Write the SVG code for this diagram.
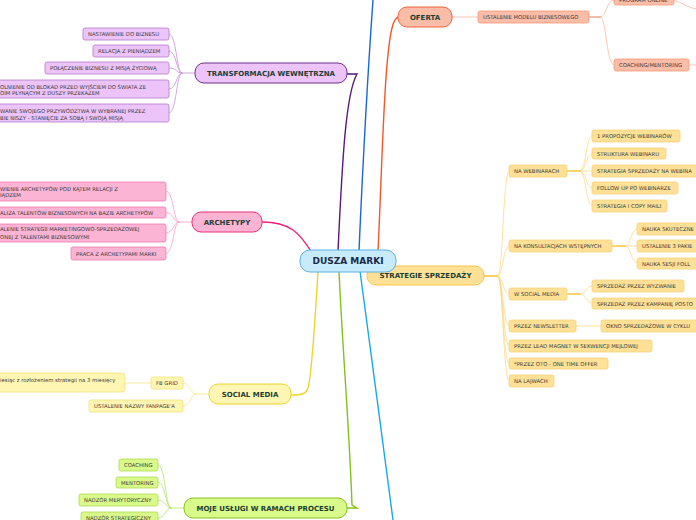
<svg xmlns="http://www.w3.org/2000/svg" width="696" height="520" viewBox="0 0 696 520">
<style>
text{font-family:"DejaVu Sans","Verdana","Liberation Sans",sans-serif}
.c{font-size:5.3px;fill:#3a3a3a}
.m{font-size:7px;font-weight:bold;fill:#1d3f33;text-anchor:middle}
.cn{fill:none;stroke-linecap:round}
.pu{fill:#ecc4fa;stroke:#b57cc8;stroke-width:0.8}
.pk{fill:#fbb4d4;stroke:#f07ab0;stroke-width:0.8}
.ye{fill:#fff6b4;stroke:#f3e27a;stroke-width:0.8}
.gr{fill:#d9f98a;stroke:#aedc50;stroke-width:0.8}
.sa{fill:#f9bda8;stroke:#f59a7a;stroke-width:0.8}
.or{fill:#fee196;stroke:#f8d27a;stroke-width:0.8}
</style>
<rect width="696" height="520" fill="#ffffff"/>
<g id="connectors" class="cn">
<!-- main branches -->
<path d="M338,251 C342,170 345,95 357,74 L347,74" stroke="#5a1a78" stroke-width="1.4"/>
<path d="M359,251 C363,160 368,70 373,0" stroke="#1a68d8" stroke-width="1.4"/>
<path d="M378,251 C382,170 384,60 392,28 C394,20 396,17 399,17" stroke="#f0582a" stroke-width="1.4"/>
<path d="M312,253 C300,233 290,222 262,222" stroke="#f0207a" stroke-width="1.4"/>
<path d="M318,271 C315,320 312,375 308,388 C306,394 302,395 291,395" stroke="#ecd42c" stroke-width="1.4"/>
<path d="M339,271 C342,340 350,440 352,505 L357,508 L347,508" stroke="#86c01e" stroke-width="1.4"/>
<path d="M360,271 C370,350 383,440 393,520" stroke="#18a8ec" stroke-width="1.4"/>
<!-- transformacja -->
<g stroke="#c890d8" stroke-width="0.8">
<path d="M195,73 L182,73"/>
<path d="M182,73 C176,73 177,34 169,34"/>
<path d="M182,73 C176,73 177,51 169,51"/>
<path d="M182,73 C176,73 177,68 169,68"/>
<path d="M182,73 C176,73 177,89 169,89"/>
<path d="M182,73 C176,73 177,113 169,113"/>
</g>
<!-- archetypy -->
<g stroke="#f8a0c8" stroke-width="0.8">
<path d="M192,222 L179,222"/>
<path d="M179,222 C173,222 174,191 166,191"/>
<path d="M179,222 C173,222 174,212.5 166,212.5"/>
<path d="M179,222 C173,222 174,233 166,233"/>
<path d="M179,222 C173,222 174,253.5 166,253.5"/>
</g>
<!-- social media -->
<g stroke="#f5e68a" stroke-width="0.8">
<path d="M209,394 L196,394"/>
<path d="M196,394 C190,394 191,383 183,383"/>
<path d="M196,394 C190,394 191,406 183,406"/>
<path d="M151,383 L125,383"/>
</g>
<!-- moje uslugi -->
<g stroke="#b8e070" stroke-width="0.8">
<path d="M184,508 L171,508"/>
<path d="M171,508 C165,508 166,465 158,465"/>
<path d="M171,508 C165,508 166,482.5 158,482.5"/>
<path d="M171,508 C165,508 166,500 158,500"/>
<path d="M171,508 C165,508 166,518 158,518"/>
</g>
<!-- oferta -->
<g stroke="#f8b8a0" stroke-width="0.8">
<path d="M452,17 L478,17"/>
<path d="M600,17 C607,17 606,0 614,0"/>
<path d="M600,17 C607,17 606,65 614,65"/>
<path d="M689,65 L696,65"/>
<path d="M673,0 C682,2 688,8 696,9"/>
</g>
<path d="M589,17 L600,17" stroke="#f07a50" stroke-width="1.2"/>
<!-- strategie -->
<path d="M484,276 L498,276" stroke="#f8c030" stroke-width="1.6"/>
<g stroke="#fdd98a" stroke-width="0.8">
<path d="M498,276 C503,276 503,171 509,171"/>
<path d="M498,276 C503,276 503,246 509,246"/>
<path d="M498,276 C503,276 503,294 509,294"/>
<path d="M498,276 C503,276 503,326 509,326"/>
<path d="M498,276 C503,276 503,346 509,346"/>
<path d="M498,276 C503,276 503,364 509,364"/>
<path d="M498,276 C503,276 503,381 509,381"/>
<path d="M580,171 C586,171 586,136 592,136"/>
<path d="M580,171 C586,171 586,154 592,154"/>
<path d="M580,171 L592,171"/>
<path d="M580,171 C586,171 586,188 592,188"/>
<path d="M580,171 C586,171 586,206 592,206"/>
<path d="M625,246 C631,246 631,229 637,229"/>
<path d="M625,246 L637,246"/>
<path d="M625,246 C631,246 631,263 637,263"/>
<path d="M580,294 C586,294 586,286 592,286"/>
<path d="M580,294 C586,294 586,303 592,303"/>
<path d="M576,326 L601,326"/>
</g>
<g stroke="#f8c840" stroke-width="1.3">
<path d="M567,171 L580,171"/>
<path d="M612,246 L625,246"/>
<path d="M567,294 L580,294"/>
</g>
</g>

<g id="oferta">
<rect x="398" y="7" width="54" height="20" rx="9" fill="#f9bda8" stroke="#f0643a" stroke-width="1"/>
<text class="m" x="425" y="19.8">OFERTA</text>
</g>
<g id="ustalenie-modelu">
<rect class="sa" x="478" y="11" width="111" height="12" rx="2"/>
<text class="c" x="483" y="19">USTALENIE MODELU BIZNESOWEGO</text>
</g>
<g id="program-online">
<rect class="sa" x="614" y="-6" width="60" height="11" rx="2"/>
<text class="c" x="619" y="2">PROGRAM ONLINE</text>
</g>
<g id="coaching-mentoring">
<rect class="sa" x="614" y="59" width="75" height="12" rx="2"/>
<text class="c" x="619" y="67">COACHING/MENTORING</text>
</g>

<g id="transformacja">
<rect x="195" y="63" width="152" height="20" rx="9" fill="#ecc4fa" stroke="#6f2f86" stroke-width="1"/>
<text class="m" x="271" y="75.8">TRANSFORMACJA WEWNĘTRZNA</text>
</g>
<g id="t1"><rect class="pu" x="83" y="28" width="86" height="12" rx="2"/><text class="c" x="88" y="36">NASTAWIENIE DO BIZNESU</text></g>
<g id="t2"><rect class="pu" x="93" y="45" width="76" height="12" rx="2"/><text class="c" x="98" y="53">RELACJA Z PIENIĄDZEM</text></g>
<g id="t3"><rect class="pu" x="45" y="62" width="124" height="12" rx="2"/><text class="c" x="50" y="70">POŁĄCZENIE BIZNESU Z MISJĄ ŻYCIOWĄ</text></g>
<g id="t4"><rect class="pu" x="-10" y="80" width="179" height="18" rx="2"/><text class="c" x="0" y="88.6">OLNIENIE OD BLOKAD PRZED WYJŚCIEM DO ŚWIATA ZE</text><text class="c" x="0" y="94.8">OIM PŁYNĄCYM Z DUSZY PRZEKAZEM</text></g>
<g id="t5"><rect class="pu" x="-10" y="104" width="179" height="18" rx="2"/><text class="c" x="0" y="112.6">WANIE SWOJEGO PRZYWÓDZTWA W WYBRANEJ PRZEZ</text><text class="c" x="0" y="119.6">BIE NISZY - STANIĘCIE ZA SOBĄ I SWOJĄ MISJĄ</text></g>

<g id="archetypy">
<rect x="192" y="212" width="70" height="20" rx="9" fill="#fbb4d4" stroke="#e8307a" stroke-width="1"/>
<text class="m" x="227" y="224.8">ARCHETYPY</text>
</g>
<g id="a1"><rect class="pk" x="-10" y="182" width="176" height="19" rx="2"/><text class="c" x="0" y="190.8">WIENIE ARCHETYPÓW POD KĄTEM RELACJI Z</text><text class="c" x="0" y="197">IĄDZEM</text></g>
<g id="a2"><rect class="pk" x="-10" y="207" width="176" height="11" rx="2"/><text class="c" x="0" y="214.5">ALIZA TALENTÓW BIZNESOWYCH NA BAZIE ARCHETYPÓW</text></g>
<g id="a3"><rect class="pk" x="-10" y="224" width="176" height="18" rx="2"/><text class="c" x="0" y="231">ALENIE STRATEGII MARKETINGOWO-SPRZEDAŻOWEJ</text><text class="c" x="0" y="238.5">ONEJ Z TALENTAMI BIZNESOWYMI</text></g>
<g id="a4"><rect class="pk" x="71" y="247" width="95" height="13" rx="2"/><text class="c" x="76" y="256">PRACA Z ARCHETYPAMI MARKI</text></g>

<g id="social-media">
<rect x="209" y="384" width="82" height="20" rx="9" fill="#fff6b4" stroke="#ecd42c" stroke-width="1"/>
<text class="m" x="250" y="396.8">SOCIAL MEDIA</text>
</g>
<g id="fb-grid"><rect class="ye" x="151" y="377" width="32" height="12" rx="2"/><text class="c" x="156" y="385">FB GRID</text></g>
<g id="fb-grid-plan"><rect class="ye" x="-10" y="373" width="135" height="19" rx="3"/><text class="c" x="0" y="382">iesiąc z rozłożeniem strategii na 3 miesięcy</text></g>
<g id="fanpage"><rect class="ye" x="89" y="400" width="94" height="12" rx="2"/><text class="c" x="94" y="408">USTALENIE NAZWY FANPAGE'A</text></g>

<g id="moje-uslugi">
<rect x="184" y="498" width="163" height="20" rx="9" fill="#d9f98a" stroke="#86c01e" stroke-width="1"/>
<text class="m" x="265.5" y="510.8">MOJE USŁUGI W RAMACH PROCESU</text>
</g>
<g id="m1"><rect class="gr" x="119" y="459" width="39" height="12" rx="2"/><text class="c" x="124" y="467">COACHING</text></g>
<g id="m2"><rect class="gr" x="116" y="477" width="42" height="11" rx="2"/><text class="c" x="121" y="484.5">MENTORING</text></g>
<g id="m3"><rect class="gr" x="79" y="494" width="79" height="12" rx="2"/><text class="c" x="84" y="502">NADZÓR MERYTORYCZNY</text></g>
<g id="m4"><rect class="gr" x="81" y="512" width="77" height="14" rx="2"/><text class="c" x="86" y="519.5">NADZÓR STRATEGICZNY</text></g>

<g id="strategie">
<rect x="367" y="266" width="117" height="19" rx="9" fill="#fee196" stroke="#f6c44a" stroke-width="1"/>
<text class="m" x="425.5" y="278.3">STRATEGIE SPRZEDAŻY</text>
</g>
<g id="s-webinary"><rect class="or" x="509" y="165" width="58" height="12" rx="2"/><text class="c" x="514" y="173">NA WEBINARACH</text></g>
<g id="s-konsultacje"><rect class="or" x="509" y="240" width="103" height="12" rx="2"/><text class="c" x="514" y="248">NA KONSULTACJACH WSTĘPNYCH</text></g>
<g id="s-social"><rect class="or" x="509" y="288" width="58" height="12" rx="2"/><text class="c" x="514" y="296">W SOCIAL MEDIA</text></g>
<g id="s-newsletter"><rect class="or" x="509" y="320" width="67" height="12" rx="2"/><text class="c" x="514" y="328">PRZEZ NEWSLETTER</text></g>
<g id="s-lead"><rect class="or" x="509" y="340" width="143" height="12" rx="2"/><text class="c" x="514" y="348">PRZEZ LEAD MAGNET W SEKWENCJI MEJLOWEJ</text></g>
<g id="s-oto"><rect class="or" x="509" y="358" width="99" height="11" rx="2"/><text class="c" x="514" y="365.5">*PRZEZ OTO - ONE TIME OFFER</text></g>
<g id="s-lajwy"><rect class="or" x="509" y="375" width="45" height="12" rx="2"/><text class="c" x="514" y="383">NA LAJWACH</text></g>

<g id="w1"><rect class="or" x="592" y="130" width="88" height="12" rx="2"/><text class="c" x="597" y="138">1 PROPOZYCJE WEBINARÓW</text></g>
<g id="w2"><rect class="or" x="592" y="148" width="74" height="11" rx="2"/><text class="c" x="597" y="155.5">STRUKTURA WEBINARU</text></g>
<g id="w3"><rect class="or" x="592" y="165" width="110" height="12" rx="2"/><text class="c" x="597" y="173">STRATEGIA SPRZEDAŻY NA WEBINA</text></g>
<g id="w4"><rect class="or" x="592" y="182" width="86" height="12" rx="2"/><text class="c" x="597" y="190">FOLLOW UP PO WEBINARZE</text></g>
<g id="w5"><rect class="or" x="592" y="200" width="75" height="12" rx="2"/><text class="c" x="597" y="208">STRATEGIA I COPY MAILI</text></g>

<g id="k1"><rect class="or" x="637" y="223" width="65" height="12" rx="2"/><text class="c" x="642" y="231">NAUKA SKUTECZNE</text></g>
<g id="k2"><rect class="or" x="637" y="240" width="65" height="12" rx="2"/><text class="c" x="642" y="248">USTALENIE 3 PAKIE</text></g>
<g id="k3"><rect class="or" x="637" y="258" width="65" height="11" rx="2"/><text class="c" x="642" y="265.5">NAUKA SESJI FOLL</text></g>

<g id="sm1"><rect class="or" x="592" y="280" width="92" height="12" rx="2"/><text class="c" x="597" y="288">SPRZEDAŻ PRZEZ WYZWANIE</text></g>
<g id="sm2"><rect class="or" x="592" y="298" width="110" height="11" rx="2"/><text class="c" x="597" y="305.5">SPRZEDAŻ PRZEZ KAMPANIĘ POSTO</text></g>
<g id="n1"><rect class="or" x="601" y="320" width="100" height="12" rx="2"/><text class="c" x="606" y="328">OKNO SPRZEDAŻOWE W CYKLU</text></g>

<g id="dusza-marki">
<rect x="300" y="250" width="96" height="22" rx="10" fill="#c8ebfc" stroke="#5ab0e8" stroke-width="1"/>
<text x="348" y="264.3" style="font-size:9px;font-weight:bold;fill:#1a2a4a;text-anchor:middle">DUSZA MARKI</text>
</g>
</svg>
